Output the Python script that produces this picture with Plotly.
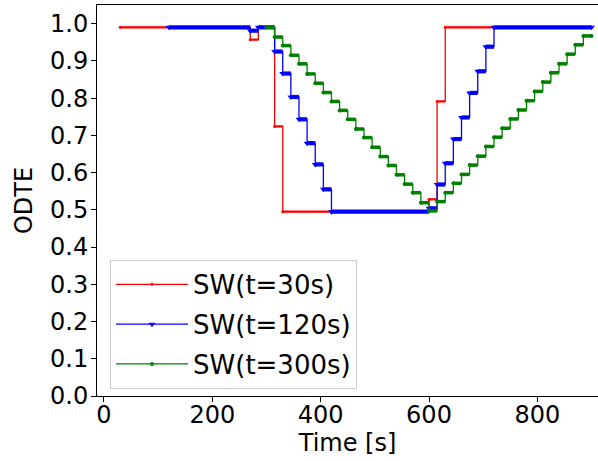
import numpy as np
import plotly.graph_objects as go

# ---- data ----
red_t = [30, 270, 285, 315, 330, 600, 615, 630, 900]
red_v = [0.990, 0.957, 0.990, 0.724, 0.495, 0.528, 0.791, 0.990, 0.990]

blue_t = [120, 270, 285, 315, 330, 345, 360, 375, 390, 405, 420,
          600, 615, 630, 645, 660, 675, 690, 705, 720, 900]
blue_v = [0.990, 0.981, 0.990, 0.925, 0.866, 0.803, 0.743, 0.679, 0.622, 0.555, 0.495,
          0.504, 0.568, 0.625, 0.690, 0.748, 0.814, 0.872, 0.938, 0.990, 0.990]

green_t = [300, 315, 330, 345, 360, 375, 390, 405, 420, 435, 450, 465, 480, 495,
           510, 525, 540, 555, 570, 585, 600, 615, 630, 645, 660, 675, 690, 705,
           720, 735, 750, 765, 780, 795, 810, 825, 840, 855, 870, 885, 900]
green_v = [0.990, 0.964, 0.941, 0.915, 0.892, 0.865, 0.840, 0.815, 0.791, 0.767,
           0.743, 0.717, 0.694, 0.668, 0.643, 0.619, 0.594, 0.569, 0.546, 0.519,
           0.497, 0.522, 0.546, 0.571, 0.595, 0.620, 0.644, 0.670, 0.695, 0.719,
           0.744, 0.768, 0.793, 0.818, 0.843, 0.868, 0.892, 0.918, 0.943, 0.967, 0.967]

x_ticks = [0, 200, 400, 600, 800]
names = ["SW(t=30s)", "SW(t=120s)", "SW(t=300s)"]

FONT = "DejaVu Sans"

def step_trace(t, v, name, color, symbol, msize, lw, bar):
    t = np.asarray(t, float)
    dur = np.append(np.diff(t), 0.0)
    return go.Scatter(
        x=t, y=v, name=name, mode="lines+markers",
        line=dict(shape="hv", color=color, width=lw),
        marker=dict(symbol=symbol, size=msize, color=color, line=dict(width=0)),
        error_x=dict(type="data", symmetric=False, array=dur,
                     arrayminus=np.zeros_like(dur), thickness=bar, width=0,
                     color=color),
        legendgroup=name,
    )

fig = go.Figure()
fig.add_trace(step_trace(red_t, red_v, names[0], "#ff0000", "circle", 3, 1.3, 2.2))
fig.add_trace(step_trace(blue_t, blue_v, names[1], "#0000ff", "triangle-down", 6, 1.3, 4.2))
fig.add_trace(step_trace(green_t, green_v, names[2], "#008000", "circle", 4, 1.3, 3.5))

fig.update_layout(
    width=598, height=461,
    margin=dict(l=97, r=0, t=5, b=65, autoexpand=False),
    plot_bgcolor="white", paper_bgcolor="white",
    font=dict(family=FONT, size=24, color="black"),
    showlegend=True,
    legend=dict(x=0.026, y=0.348, xanchor="left", yanchor="top",
                bgcolor="rgba(255,255,255,0.8)", bordercolor="#cccccc", borderwidth=1,
                font=dict(family=FONT, size=26, color="black"),
                tracegroupgap=3, traceorder="grouped", itemwidth=72),
)
fig.update_xaxes(
    range=[-12.9, 912], tickvals=x_ticks, ticks="outside", ticklen=5,
    tickcolor="black", showline=True, linecolor="black", linewidth=1, mirror=True,
    showgrid=False, zeroline=False, automargin=False, ticklabelstandoff=-8,
    tickfont=dict(family=FONT, size=24, color="black"),
    title=dict(text="Time [s]", font=dict(family=FONT, size=24, color="black"), standoff=2),
)
fig.update_yaxes(
    range=[0, 1.05], dtick=0.1, tick0=0, tickformat=".1f", ticks="outside", ticklen=5,
    tickcolor="black", showline=True, linecolor="black", linewidth=1, mirror=False,
    showgrid=False, zeroline=False, automargin=False, ticklabelstandoff=-2,
    tickfont=dict(family=FONT, size=24, color="black"),
    title=dict(text="ODTE", font=dict(family=FONT, size=24, color="black"), standoff=10),
)

fig.write_html("out.html", config={"displayModeBar": False},
               post_script="document.body.style.margin='0';")
